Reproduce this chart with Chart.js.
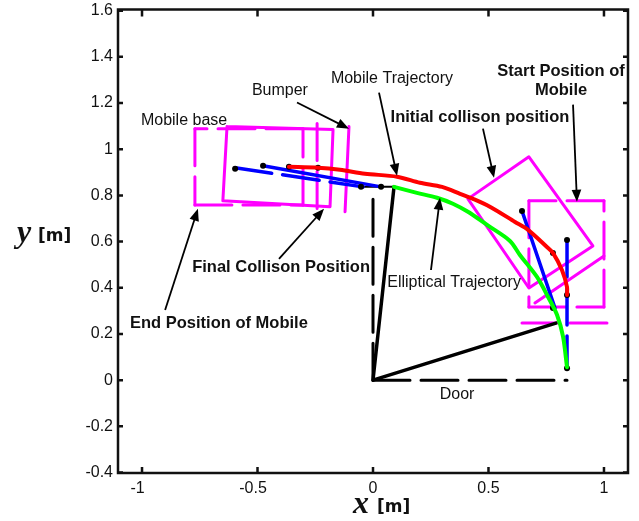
<!DOCTYPE html>
<html>
<head>
<meta charset="utf-8">
<script src="https://cdn.jsdelivr.net/npm/chart.js@4/dist/chart.umd.min.js"></script>
<style>
html, body { margin: 0; padding: 0; background: #fff; }
canvas { display: block; }
</style>
</head>
<body>
<canvas id="chart" width="639" height="521"></canvas>
<script>
// Axis ticks
const xTicks = [-1, -0.5, 0, 0.5, 1];
const yTicks = [-0.4, -0.2, 0, 0.2, 0.4, 0.6, 0.8, 1, 1.2, 1.4, 1.6];

// Trajectories [x, y]
const mobileTrajectory = [[-0.364,0.924],[-0.238,0.920],[-0.143,0.911],[-0.035,0.894],[0.104,0.881],[0.203,0.855],[0.299,0.837],[0.377,0.807],[0.433,0.785],[0.506,0.751],[0.615,0.685],[0.671,0.651],[0.753,0.577],[0.779,0.551],[0.818,0.477],[0.840,0.403],[0.840,0.369]];
const ellipticalTrajectory = [[0.091,0.837],[0.190,0.811],[0.277,0.790],[0.346,0.764],[0.411,0.729],[0.494,0.672],[0.593,0.603],[0.636,0.542],[0.710,0.447],[0.758,0.360],[0.797,0.282],[0.823,0.187],[0.840,0.056]];

// Blue links
const linkEnd = [[-0.476,0.928],[0.035,0.837]];
const linkEndDashed = [[-0.597,0.920],[-0.043,0.837]];
const linkStart = [[0.645,0.733],[0.788,0.312]];
const linkStartDashed = [[0.840,0.607],[0.840,0.052]];
const linkDots = [[-0.364,0.924],[-0.238,0.920],[-0.597,0.915],[-0.476,0.928],[-0.052,0.837],[0.035,0.837],[0.645,0.733],[0.779,0.551],[0.840,0.607],[0.840,0.369],[0.779,0.312],[0.840,0.052]];

// Door
const doorOpen = [[0.091,0.837],[0,0],[0.792,0.247]];
const doorTop = [[-0.052,0.837],[0.091,0.837]];
const doorClosedY = [[0,0],[0,0.82]];
const doorClosedX = [[0,0],[0.84,0]];

// Mobile base and bumper outlines
const finalRect = [[-0.632,1.098],[-0.173,1.085],[-0.186,0.751],[-0.650,0.777],[-0.632,1.098]];
const finalBumper = [[-0.104,1.098],[-0.121,0.729]];
const endRect = [[-0.303,1.089],[-0.771,1.089],[-0.771,0.759],[-0.303,0.759],[-0.303,1.089]];
const endBumper = [[-0.242,1.111],[-0.242,0.742]];
const startRect = [[1.0,0.777],[0.675,0.777],[0.675,0.317],[1.0,0.317],[1.0,0.777]];
const startBumper = [[0.645,0.247],[1.022,0.247]];
const initialRect = [[0.411,0.785],[0.675,0.967],[0.952,0.581],[0.675,0.399],[0.411,0.785]];
const initialBumper = [[0.701,0.334],[1.0,0.538]];

// Annotation arrows [fromX, fromY, toX, toY]
const arrows = [
    [-0.329,1.202,-0.104,1.089],
    [0.026,1.245,0.104,0.885],
    [0.476,1.089,0.524,0.876],
    [0.866,1.193,0.883,0.772],
    [0.251,0.477,0.290,0.790],
    [-0.900,0.304,-0.758,0.742],
    [-0.407,0.525,-0.212,0.742]
];

// Annotation labels [text, x, y, bold]
const labels = [
    ['Bumper', -0.403, 1.254, false],
    ['Mobile base', -0.818, 1.124, false],
    ['Mobile Trajectory', 0.082, 1.306, false],
    ['Initial collison position', 0.463, 1.137, true],
    ['Start Position of', 0.814, 1.336, true],
    ['Mobile', 0.814, 1.254, true],
    ['Final Collison Position', -0.398, 0.490, true],
    ['End Position of Mobile', -0.667, 0.247, true],
    ['Elliptical Trajectory', 0.351, 0.421, false],
    ['Door', 0.364, -0.061, false]
];

const MAGENTA = '#ff00ff';
const BLACK = '#000000';
const BLUE = '#0000ff';
const DASH = [37, 11];

function line(points, color, width, dash, tension) {
    return {
        data: points.map(p => ({ x: p[0], y: p[1] })),
        showLine: true,
        borderColor: color,
        borderWidth: width,
        borderDash: dash || [],
        pointRadius: 0,
        tension: tension || 0,
        borderCapStyle: 'round',
        borderJoinStyle: 'round'
    };
}

// dash pattern restarts at every corner of a dashed outline
function sides(points, color, width) {
    return points.slice(1).map((p, i) => line([points[i], p], color, width, DASH));
}

// Frame with inward ticks, arrows, labels and axis names
const overlay = {
    id: 'overlay',
    afterDatasetsDraw(chart) {
        const { ctx, chartArea: a, scales: { x, y } } = chart;
        ctx.save();
        ctx.strokeStyle = '#111';
        ctx.lineWidth = 2.5;
        ctx.strokeRect(a.left, a.top, a.right - a.left, a.bottom - a.top);
        ctx.beginPath();
        xTicks.forEach(t => {
            const px = x.getPixelForValue(t);
            ctx.moveTo(px, a.bottom); ctx.lineTo(px, a.bottom - 6);
            ctx.moveTo(px, a.top); ctx.lineTo(px, a.top + 7);
        });
        yTicks.forEach(t => {
            const py = y.getPixelForValue(t);
            ctx.moveTo(a.left, py); ctx.lineTo(a.left + 5, py);
            ctx.moveTo(a.right, py); ctx.lineTo(a.right - 5, py);
        });
        ctx.stroke();

        // arrows
        ctx.strokeStyle = BLACK;
        ctx.fillStyle = BLACK;
        arrows.forEach(r => {
            const x0 = x.getPixelForValue(r[0]), y0 = y.getPixelForValue(r[1]);
            const x1 = x.getPixelForValue(r[2]), y1 = y.getPixelForValue(r[3]);
            const ang = Math.atan2(y1 - y0, x1 - x0);
            ctx.lineWidth = 1.8;
            ctx.beginPath();
            ctx.moveTo(x0, y0);
            ctx.lineTo(x1 - 8 * Math.cos(ang), y1 - 8 * Math.sin(ang));
            ctx.stroke();
            ctx.beginPath();
            ctx.moveTo(x1, y1);
            ctx.lineTo(x1 - 13 * Math.cos(ang - 0.38), y1 - 13 * Math.sin(ang - 0.38));
            ctx.lineTo(x1 - 13 * Math.cos(ang + 0.38), y1 - 13 * Math.sin(ang + 0.38));
            ctx.closePath();
            ctx.fill();
        });

        // labels
        ctx.fillStyle = '#111';
        ctx.textAlign = 'center';
        ctx.textBaseline = 'middle';
        labels.forEach(l => {
            ctx.font = l[3] ? 'bold 16.5px "Liberation Sans"' : '16px "Liberation Sans"';
            ctx.fillText(l[0], x.getPixelForValue(l[1]), y.getPixelForValue(l[2]));
        });

        // axis names
        ctx.textAlign = 'left';
        ctx.font = 'italic bold 32px "Liberation Serif"';
        ctx.fillText('x', 353, 505);
        ctx.fillText('y', 17, 234);
        ctx.font = 'bold 17px "DejaVu Sans"';
        ctx.fillText('[m]', 377, 508);
        ctx.fillText('[m]', 38, 237);
        ctx.restore();
    }
};

new Chart(document.getElementById('chart'), {
    type: 'scatter',
    data: {
        datasets: [
            line(ellipticalTrajectory, '#00ff00', 4, null, 0.3),
            line(mobileTrajectory, '#ff0000', 4, null, 0.3),
            {
                data: linkDots.map(p => ({ x: p[0], y: p[1] })),
                showLine: false,
                pointRadius: 3,
                pointBackgroundColor: BLACK,
                pointBorderWidth: 0
            },
            line(linkEnd, BLUE, 3.5),
            line(linkEndDashed, BLUE, 3.5, DASH),
            line(linkStart, BLUE, 3.5),
            line(linkStartDashed, BLUE, 3.5, DASH),
            line(doorOpen, BLACK, 3.5),
            line(doorTop, BLACK, 2),
            line(doorClosedY, BLACK, 3, DASH),
            line(doorClosedX, BLACK, 3, DASH),
            line(finalRect, MAGENTA, 3),
            line(finalBumper, MAGENTA, 3),
            ...sides(endRect, MAGENTA, 3),
            line(endBumper, MAGENTA, 3, DASH),
            ...sides(startRect, MAGENTA, 3),
            line(startBumper, MAGENTA, 3, DASH),
            line(initialRect, MAGENTA, 3),
            line(initialBumper, MAGENTA, 3)
        ]
    },
    plugins: [overlay],
    options: {
        responsive: false,
        animation: false,
        events: [],
        layout: { padding: { top: 9.5, right: 11, left: 0, bottom: 0 } },
        plugins: { legend: { display: false }, tooltip: { enabled: false } },
        scales: {
            x: {
                type: 'linear',
                min: -1.104,
                max: 1.104,
                afterBuildTicks: s => { s.ticks = xTicks.map(v => ({ value: v })); },
                afterFit: s => { s.height = 48; s.paddingLeft = 0; s.paddingRight = 0; },
                grid: { display: false, drawTicks: false },
                border: { display: false },
                // two trailing spaces: negative labels sit left of their tick
                ticks: { padding: 6, maxRotation: 0, autoSkip: false, color: '#111', font: { family: '"Liberation Sans"', size: 16 }, callback: v => v < 0 ? v + '  ' : String(v) }
            },
            y: {
                type: 'linear',
                min: -0.402,
                max: 1.605,
                afterBuildTicks: s => { s.ticks = yTicks.map(v => ({ value: v })); },
                afterFit: s => { s.width = 118; s.paddingTop = 0; s.paddingBottom = 0; },
                grid: { display: false, drawTicks: false },
                border: { display: false },
                ticks: { padding: 5, autoSkip: false, color: '#111', font: { family: '"Liberation Sans"', size: 16 }, callback: v => String(v) }
            }
        }
    }
});
</script>
</body>
</html>
